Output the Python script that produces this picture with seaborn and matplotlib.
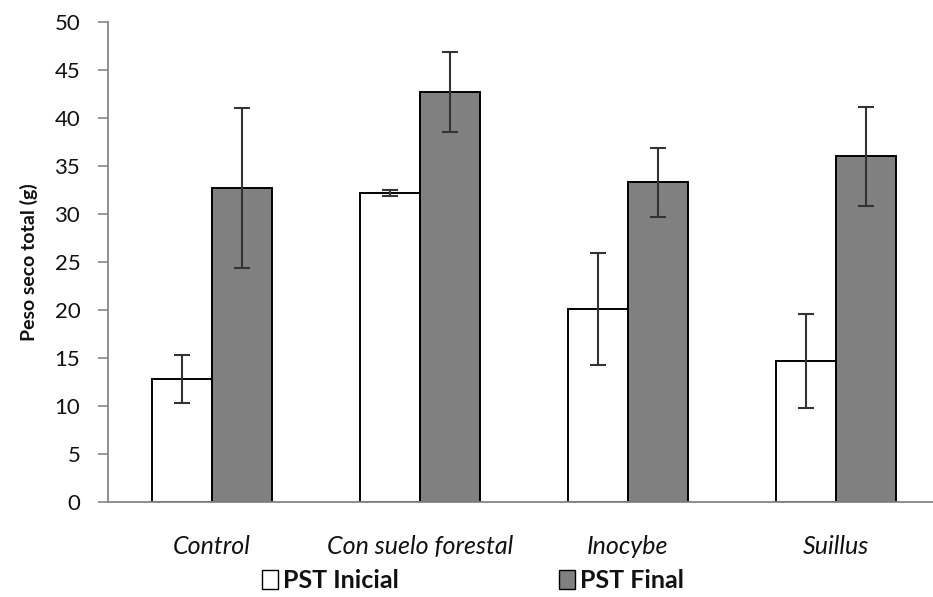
import matplotlib
matplotlib.use("Agg")
import matplotlib.pyplot as plt
import seaborn as sns
import pandas as pd
import numpy as np
from matplotlib.patches import Patch

categories = ["Control", "Con suelo forestal", "Inocybe", "Suillus"]
series = ["PST Inicial", "PST Final"]
inicial = [12.8, 32.2, 20.1, 14.7]
final = [32.7, 42.7, 33.3, 36.0]
err_inicial = [2.5, 0.35, 5.8, 4.9]
err_final = [8.3, 4.2, 3.6, 5.2]
y_ticks = [0, 5, 10, 15, 20, 25, 30, 35, 40, 45, 50]
colors = ["#ffffff", "#808080"]

sns.set_theme(style="white")
plt.rcParams["font.family"] = ["Lato", "DejaVu Sans"]

df = pd.DataFrame({
    "cat": categories * 2,
    "serie": [series[0]] * 4 + [series[1]] * 4,
    "val": inicial + final,
    "err": err_inicial + err_final,
})

fig = plt.figure(figsize=(9.33, 5.97), dpi=100)
ax = fig.add_axes([0.1158, 0.1591, 0.8917, 0.804])

sns.barplot(data=df, x="cat", y="val", hue="serie", order=categories,
            hue_order=series, palette=colors, width=0.573, errorbar=None,
            edgecolor="black", linewidth=1.4, legend=False, ax=ax)

errs = [err_inicial, err_final]
for cont, e in zip(ax.containers, errs):
    xs = [p.get_x() + p.get_width() / 2 for p in cont.patches]
    hs = [p.get_height() for p in cont.patches]
    ax.errorbar(xs, hs, yerr=e, fmt="none", ecolor="#333333",
                elinewidth=1.5, capsize=6, capthick=1.5, zorder=5)

ax.set_ylim(0, 50)
ax.set_xlim(-0.5, 3.5)
ax.set_yticks(y_ticks)
ax.set_yticklabels([str(t) for t in y_ticks], fontsize=16, color="#111111")
ax.set_xticks(range(len(categories)))
ax.set_xticklabels(categories, fontsize=18, style="italic", color="#111111")
ax.set_xticks(np.arange(-0.5, 4.0, 1.0), minor=True)
ax.tick_params(axis="x", which="major", length=0, pad=24)
ax.tick_params(axis="x", which="minor", length=6, color="#868686", width=1.2, direction="out")
ax.tick_params(axis="y", length=7, color="#868686", width=1.2, direction="out", pad=13, left=True)
ax.set_xlabel("")
ax.set_ylabel("Peso seco total (g)", fontsize=14, fontweight="bold", labelpad=12, color="#111111")

for s in ["top", "right"]:
    ax.spines[s].set_visible(False)
for s in ["left", "bottom"]:
    ax.spines[s].set_color("#868686")
    ax.spines[s].set_linewidth(1.3)

handles = [Patch(facecolor=c, edgecolor="black", linewidth=1.0) for c in colors]
fig.legend(handles, series, ncol=2, loc="center", bbox_to_anchor=(0.507, 0.028),
           frameon=False, handlelength=0.65, handleheight=0.8,
           handletextpad=0.2, columnspacing=6.4, labelcolor="#111111",
           prop={"family": ["Lato", "DejaVu Sans"], "size": 18, "weight": "bold"})

fig.savefig("out.png", dpi=100)
